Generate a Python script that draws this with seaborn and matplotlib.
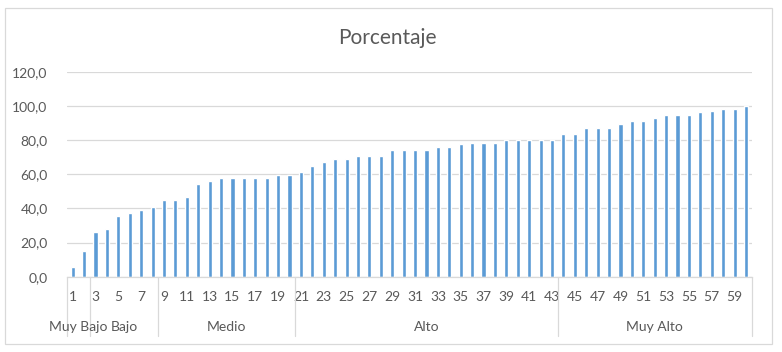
import numpy as np
import pandas as pd
import seaborn as sns
import matplotlib.pyplot as plt
from matplotlib.patches import Rectangle
from matplotlib.transforms import blended_transform_factory

# datos
valores = [5.6, 15.0, 26.1, 27.9, 35.5, 37.2, 39.0, 40.7, 44.8, 44.8,
           46.6, 54.2, 55.9, 57.7, 57.7, 57.7, 57.7, 57.7, 59.5, 59.5,
           61.2, 64.7, 67.1, 68.8, 68.8, 70.6, 70.6, 70.6, 74.1, 74.1,
           74.1, 74.1, 75.8, 75.8, 77.6, 78.2, 78.2, 78.2, 79.9, 79.9,
           79.9, 79.9, 79.9, 83.4, 83.4, 86.9, 86.9, 86.9, 89.3, 91.0,
           91.0, 92.8, 94.5, 94.5, 94.5, 96.3, 96.9, 98.1, 98.1, 100.0]
categorias = [str(i) for i in range(1, 61)]
grupo_nombres = ['Muy Bajo', 'Bajo', 'Medio', 'Alto', 'Muy Alto']
grupo_tamanos = [2, 6, 12, 23, 17]
y_ticks = [0, 20, 40, 60, 80, 100, 120]

sns.set_theme(style='white')
plt.rcParams['font.family'] = ['Lato', 'DejaVu Sans']

gris = '#595959'
linea = '#D9D9D9'
azul = '#5B9BD5'

df = pd.DataFrame({'cat': categorias, 'pct': valores})

W, H = 782, 352
fig = plt.figure(figsize=(W / 100, H / 100), dpi=100)
ax = fig.add_axes([67 / W, 75.3 / H, (751.7 - 67) / W, 205 / H])

sns.barplot(data=df, x='cat', y='pct', color=azul, saturation=1,
            width=0.36, ax=ax, order=categorias)

ax.set_xlim(-0.5, len(categorias) - 0.5)
ax.set_ylim(0, 120)
ax.set_yticks(y_ticks)
ax.set_yticklabels([f'{v:.1f}'.replace('.', ',') for v in y_ticks])
ax.yaxis.grid(True, color=linea, lw=0.9)
ax.set_axisbelow(True)
for s in ['left', 'right', 'top']:
    ax.spines[s].set_visible(False)
ax.spines['bottom'].set_color(linea)
ax.spines['bottom'].set_linewidth(0.9)

ax.set_xticks(range(0, 60, 2))
ax.set_xticklabels(categorias[::2])
ax.tick_params(axis='x', length=0, pad=10, labelsize=10, labelcolor=gris)
ax.tick_params(axis='y', length=0, pad=14, labelsize=10, labelcolor=gris)
ax.set_xlabel('')
ax.set_ylabel('')

# eje de categorias de dos niveles
tr = blended_transform_factory(ax.transData, ax.transAxes)
y_sep = (16 - 75.3) / 205
y_lab = (25 - 75.3) / 205
inicio = 0
bordes = [-0.5]
for nombre, n in zip(grupo_nombres, grupo_tamanos):
    centro = inicio + (n - 1) / 2
    ax.text(centro, y_lab, nombre, transform=tr, ha='center', va='center',
            fontsize=10, color=gris)
    inicio += n
    bordes.append(inicio - 0.5)
for b in bordes:
    ax.plot([b, b], [0, y_sep], transform=tr, color=linea, lw=0.9,
            clip_on=False)

fig.text(387 / W, 1 - 38 / H, 'Porcentaje', ha='center', va='center',
         fontsize=15, color=gris)

fig.patches.append(Rectangle((5 / W, 1 - 344 / H), 767 / W, 336 / H,
                             transform=fig.transFigure, fill=False,
                             edgecolor=linea, lw=0.9))

fig.savefig('out.png', dpi=100, facecolor='white')
